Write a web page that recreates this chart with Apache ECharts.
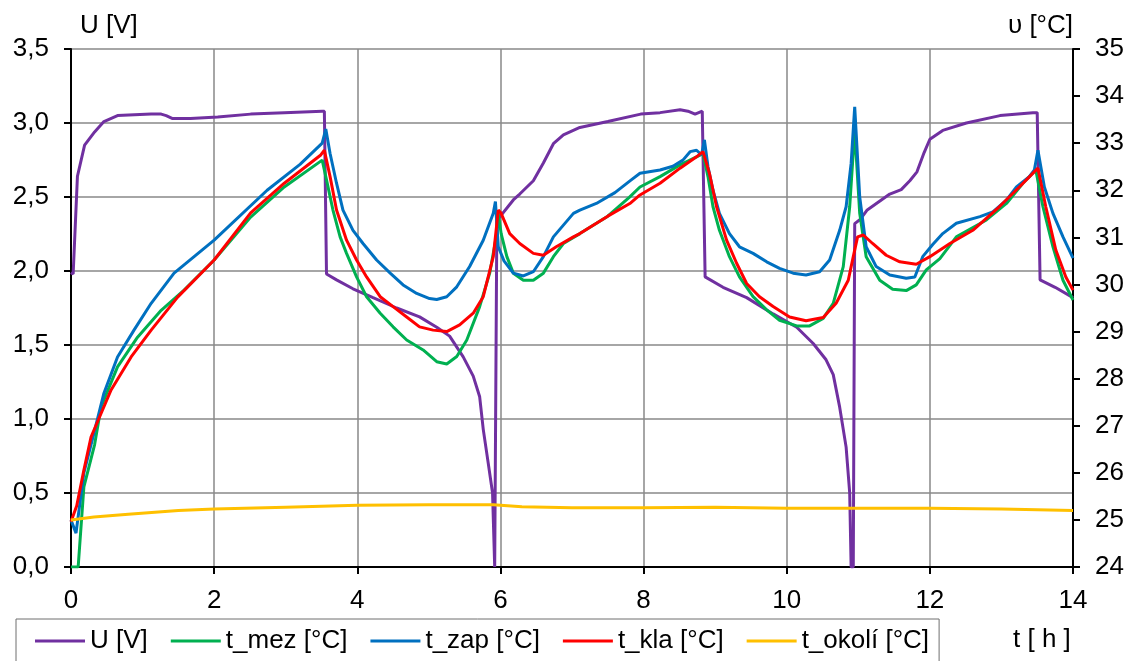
<!DOCTYPE html>
<html>
<head>
<meta charset="utf-8">
<script src="https://cdn.jsdelivr.net/npm/echarts@6/dist/echarts.min.js"></script>
<style>
html,body{margin:0;padding:0;background:#fff;}
#chart{width:1130px;height:661px;}
</style>
</head>
<body>
<div id="chart"></div>
<script>
// ---- data (time in hours) ----
const xTicks = [0, 2, 4, 6, 8, 10, 12, 14];
const seriesNames = ['U [V]', 't_mez [°C]', 't_zap [°C]', 't_kla [°C]', 't_okolí [°C]'];

const tU = [0,0.03,0.09,0.19,0.33,0.46,0.65,1.12,1.26,1.33,1.42,1.67,2.05,2.51,2.98,3.51,3.54,3.57,3.71,3.94,4.22,4.55,4.87,5.11,5.29,5.48,5.62,5.71,5.76,5.83,5.89,5.92,5.94,5.95,6.18,6.27,6.46,6.60,6.74,6.88,7.11,7.5,7.96,8.23,8.51,8.62,8.72,8.82,8.86,9.11,9.44,9.81,10.14,10.37,10.55,10.65,10.74,10.83,10.88,10.90,10.93,10.95,11.03,11.12,11.44,11.6,11.72,11.82,11.92,12.0,12.18,12.51,12.98,13.44,13.5,13.54,13.75,14.0];
const vU = [1.99,1.98,2.64,2.85,2.94,3.01,3.05,3.06,3.06,3.05,3.03,3.03,3.04,3.06,3.07,3.08,3.08,1.98,1.94,1.88,1.82,1.75,1.69,1.62,1.56,1.42,1.29,1.15,0.93,0.70,0.50,0.0,0.0,2.34,2.48,2.52,2.61,2.73,2.86,2.92,2.97,3.01,3.06,3.07,3.09,3.08,3.06,3.08,1.96,1.89,1.82,1.71,1.62,1.51,1.40,1.30,1.08,0.81,0.50,0.0,0.0,2.32,2.35,2.41,2.52,2.55,2.61,2.67,2.80,2.89,2.95,3.00,3.05,3.07,3.07,1.94,1.89,1.82];

const tMez = [0,0.1,0.18,0.33,0.42,0.65,0.93,1.26,1.58,2.0,2.51,2.98,3.51,3.57,3.66,3.76,3.85,3.99,4.13,4.32,4.50,4.69,4.92,5.11,5.25,5.39,5.53,5.71,5.85,5.95,5.97,6.01,6.09,6.18,6.32,6.46,6.60,6.74,6.88,7.11,7.5,7.8,7.95,8.23,8.51,8.74,8.83,8.90,8.97,9.06,9.20,9.34,9.53,9.72,9.90,10.14,10.32,10.51,10.65,10.79,10.88,10.95,11.02,11.11,11.30,11.48,11.67,11.81,11.95,12.14,12.37,12.79,13.07,13.30,13.48,13.58,13.72,13.86,14.0];
const vMez = [24.0,24.0,25.7,26.6,27.4,28.25,28.88,29.45,29.88,30.52,31.43,32.07,32.64,32.22,31.58,31.01,30.66,30.16,29.74,29.39,29.10,28.82,28.61,28.36,28.31,28.47,28.82,29.53,30.24,31.08,31.51,31.08,30.59,30.24,30.09,30.09,30.24,30.59,30.87,31.08,31.45,31.85,32.07,32.29,32.54,32.71,32.78,32.29,31.65,31.15,30.59,30.16,29.74,29.46,29.24,29.12,29.12,29.28,29.60,30.38,31.65,33.28,31.51,30.59,30.09,29.90,29.87,29.99,30.31,30.55,31.01,31.37,31.72,32.15,32.43,31.65,30.80,30.09,29.67];

const tZap = [0,0.07,0.18,0.32,0.46,0.65,0.88,1.12,1.44,2.0,2.74,3.2,3.51,3.56,3.62,3.71,3.80,3.94,4.08,4.27,4.46,4.64,4.83,5.01,5.11,5.25,5.39,5.57,5.76,5.90,5.93,5.97,6.05,6.18,6.32,6.46,6.60,6.74,6.88,7.02,7.11,7.34,7.6,7.81,7.95,8.23,8.41,8.55,8.65,8.74,8.81,8.85,8.90,8.97,9.06,9.20,9.34,9.53,9.72,9.90,10.09,10.27,10.46,10.60,10.74,10.83,10.90,10.95,11.02,11.11,11.25,11.44,11.67,11.79,11.90,12.04,12.18,12.37,12.70,12.88,13.07,13.21,13.39,13.46,13.51,13.60,13.72,13.86,14.0];
const vZap = [25.0,24.72,26.0,26.84,27.69,28.46,29.03,29.6,30.24,30.94,32.0,32.55,33.0,33.3,32.78,32.15,31.58,31.15,30.87,30.52,30.24,29.99,29.81,29.70,29.68,29.74,29.95,30.38,30.94,31.51,31.76,30.80,30.5,30.24,30.18,30.27,30.59,31.01,31.26,31.51,31.58,31.72,31.95,32.20,32.36,32.43,32.51,32.64,32.82,32.85,32.75,33.07,32.5,32.0,31.51,31.08,30.80,30.66,30.48,30.34,30.24,30.20,30.27,30.52,31.15,31.65,32.57,33.77,31.86,30.80,30.38,30.20,30.13,30.16,30.59,30.85,31.08,31.30,31.44,31.54,31.79,32.07,32.29,32.43,32.85,32.07,31.51,31.01,30.56];

const tKla = [0,0.08,0.18,0.28,0.56,0.84,1.12,1.49,2.0,2.51,2.98,3.49,3.54,3.62,3.71,3.85,3.99,4.13,4.32,4.50,4.69,4.87,5.06,5.25,5.43,5.62,5.76,5.90,5.97,6.01,6.13,6.27,6.46,6.60,6.78,7.02,7.11,7.5,7.82,7.95,8.23,8.51,8.74,8.83,8.92,9.02,9.16,9.30,9.44,9.62,9.81,10.04,10.27,10.51,10.69,10.86,10.93,10.99,11.07,11.20,11.39,11.58,11.81,12.0,12.28,12.60,12.97,13.25,13.51,13.62,13.76,13.90,14.0];
const vKla = [24.96,25.3,26.06,26.76,27.76,28.46,29.03,29.73,30.52,31.52,32.15,32.75,32.85,32.29,31.58,30.94,30.52,30.16,29.74,29.53,29.31,29.10,29.03,29.0,29.14,29.39,29.74,30.59,31.58,31.51,31.08,30.87,30.66,30.62,30.80,31.01,31.08,31.45,31.73,31.90,32.15,32.47,32.71,32.82,32.36,31.65,30.94,30.45,30.02,29.74,29.53,29.31,29.23,29.30,29.60,30.09,30.59,31.01,31.05,30.87,30.62,30.48,30.43,30.59,30.87,31.15,31.65,32.07,32.47,31.65,30.73,30.16,29.88];

const tOkoli = [0,0.32,0.8,1.5,2.0,3.0,4.0,5.0,5.9,6.3,7.0,8.0,9.0,10.0,11.0,12.0,13.0,14.0];
const vOkoli = [25.0,25.06,25.12,25.2,25.23,25.27,25.31,25.32,25.32,25.28,25.26,25.26,25.27,25.25,25.25,25.25,25.23,25.2];

const colors = ['#7030A0', '#00B050', '#0070C0', '#FF0000', '#FFC000'];

function pairs(t, v) { return t.map((x, i) => [x, v[i]]); }

const FONT = '"Liberation Sans", Arial, sans-serif';
const chart = echarts.init(document.getElementById('chart'), null, {renderer: 'canvas'});

const seriesData = [pairs(tU, vU), pairs(tMez, vMez), pairs(tZap, vZap), pairs(tKla, vKla), pairs(tOkoli, vOkoli)];

chart.setOption({
  animation: false,
  backgroundColor: '#fff',
  textStyle: {fontFamily: FONT},
  grid: {left: 71, right: 57, top: 49, bottom: 94},
  legend: {
    left: 16, top: 619,
    icon: 'rect', itemWidth: 50, itemHeight: 3, itemGap: 23,
    padding: [9, 10, 22, 19],
    borderColor: '#6f6f6f', borderWidth: 1,
    textStyle: {fontSize: 26, color: '#000', fontFamily: FONT},
    data: seriesNames
  },
  graphic: [{
    type: 'text', left: 1013, top: 627,
    style: {text: 't [ h ]', fontSize: 26, fill: '#000', fontFamily: FONT}
  }],
  xAxis: {
    type: 'value', min: 0, max: 14, interval: 2,
    axisLine: {show: true, onZero: false, lineStyle: {color: '#000', width: 2}},
    axisTick: {show: true, inside: false, length: 7, lineStyle: {color: '#000', width: 2}},
    axisLabel: {fontSize: 26, color: '#000', margin: 21, fontFamily: FONT},
    splitLine: {show: true, lineStyle: {color: '#888', width: 1.5}}
  },
  yAxis: [{
    type: 'value', min: 0, max: 3.5, interval: 0.5, position: 'left',
    name: 'U [V]', nameLocation: 'end', nameGap: 10,
    nameTextStyle: {fontSize: 26, color: '#000', align: 'left', padding: [0, 0, 0, 9], fontFamily: FONT},
    axisLine: {show: true, onZero: false, lineStyle: {color: '#000', width: 2}},
    axisTick: {show: true, length: 7, lineStyle: {color: '#000', width: 2}},
    axisLabel: {fontSize: 26, color: '#000', margin: 22, fontFamily: FONT,
      formatter: v => v.toFixed(1).replace('.', ',')},
    splitLine: {show: true, lineStyle: {color: '#888', width: 1.5}}
  }, {
    type: 'value', min: 24, max: 35, interval: 1, position: 'right',
    name: 'υ [°C]', nameLocation: 'end', nameGap: 10,
    nameTextStyle: {fontSize: 26, color: '#000', align: 'right', fontFamily: FONT},
    axisLine: {show: true, onZero: false, lineStyle: {color: '#000', width: 2}},
    axisTick: {show: true, length: 7, lineStyle: {color: '#000', width: 2}},
    axisLabel: {fontSize: 26, color: '#000', margin: 22, fontFamily: FONT},
    splitLine: {show: false}
  }],
  series: seriesNames.map((name, i) => ({
    name: name, type: 'line',
    yAxisIndex: i === 0 ? 0 : 1,
    data: seriesData[i],
    showSymbol: false, symbol: 'none',
    color: colors[i],
    lineStyle: {color: colors[i], width: 3},
    z: 2 + i
  }))
});
</script>
</body>
</html>
